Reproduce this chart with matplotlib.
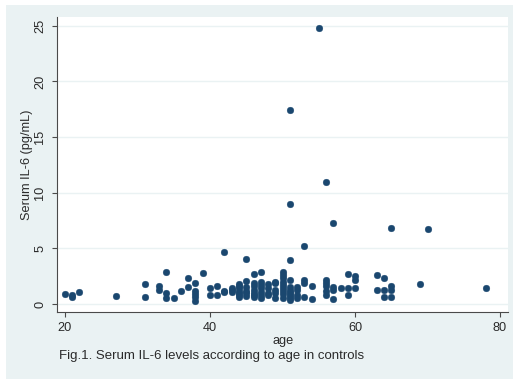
import matplotlib
matplotlib.use("Agg")
import matplotlib.pyplot as plt
from matplotlib.patches import Rectangle

# age (years) and serum IL-6 (pg/mL) for the control group
age = [20, 21, 21, 22, 27, 31, 31, 33, 33, 34, 34, 34, 35, 36, 37, 37,
       38, 38, 38, 38, 38, 39, 40, 40, 41, 41, 42, 42, 42, 43, 43, 43,
       44, 44, 44, 44, 44, 44, 44,
       45, 45, 45, 45, 45, 45,
       46, 46, 46, 46, 46, 46, 46,
       47, 47, 47, 47, 47, 47, 47,
       48, 48, 48, 48,
       49, 49, 49, 49, 49,
       50, 50, 50, 50, 50, 50, 50, 50, 50,
       51, 51, 51, 51, 51, 51, 51, 51, 51, 51, 51,
       52, 52, 52, 52, 53, 53, 53, 53, 54, 54, 55,
       56, 56, 56, 56, 56, 56, 57, 57, 57, 57, 58, 59, 59, 59,
       60, 60, 60, 63, 63, 64, 64, 64, 65, 65, 65, 65, 69, 70, 78]
il6 = [0.87, 0.85, 0.60, 1.05, 0.69, 1.77, 0.66, 1.59, 1.26, 2.85, 1.02, 0.54, 0.51, 1.14, 2.31, 1.56,
       1.89, 1.20, 0.90, 0.60, 0.30, 2.76, 1.47, 0.84, 1.59, 0.81, 4.64, 1.20, 1.05, 1.45, 1.30, 1.10,
       1.80, 1.60, 1.40, 1.20, 1.00, 0.80, 0.66,
       4.04, 2.10, 1.50, 1.20, 1.00, 0.75,
       2.67, 1.90, 1.60, 1.30, 1.00, 0.80, 0.60,
       2.88, 2.00, 1.70, 1.40, 1.10, 0.80, 0.50,
       1.80, 1.40, 1.00, 0.80,
       2.00, 1.90, 1.26, 0.96, 0.50,
       2.90, 2.60, 2.30, 2.00, 1.70, 1.40, 1.20, 0.90, 0.50,
       17.4, 9.00, 3.98, 2.16, 1.50, 1.30, 1.10, 0.90, 0.70, 0.50, 0.36,
       1.56, 1.26, 0.80, 0.50, 5.24, 2.16, 1.86, 0.66, 1.65, 0.45, 24.8,
       11.0, 2.16, 1.90, 1.60, 1.20, 0.81, 7.28, 1.56, 1.26, 0.45, 1.41, 2.67, 1.41, 0.81,
       2.50, 2.16, 1.41, 2.60, 1.26, 2.36, 1.26, 0.60, 6.83, 1.60, 1.26, 0.60, 1.80, 6.77, 1.41]

x_ticks = [20, 40, 60, 80]
y_ticks = [0, 5, 10, 15, 20, 25]

BG = "#eaf2f3"
NAVY = "#1a476f"
AXIS = "#4a4a4a"
INK = "#2a2a2a"
FS = 9.2

plt.rcParams["font.family"] = ["Liberation Sans", "DejaVu Sans"]

fig = plt.figure(figsize=(5.13, 3.79), dpi=100, facecolor="white")
fig.patches.append(Rectangle((6 / 513, 0), 1, 374 / 379, transform=fig.transFigure,
                             facecolor=BG, edgecolor="none", zorder=-10))

ax = fig.add_axes([57.3 / 513, 67.3 / 379, 450.7 / 513, 294.7 / 379])
ax.set_facecolor("white")
ax.plot(age, il6, "o", color=NAVY, ms=4.8, mec=NAVY, mew=0.3, zorder=3)

ax.set_xlim(18.94, 81.1)
ax.set_ylim(-0.69, 25.79)
ax.set_xticks(x_ticks)
ax.set_yticks(y_ticks)
ax.grid(axis="y", color=BG, lw=1.0, zorder=0)
ax.set_axisbelow(True)

for side in ("top", "right"):
    ax.spines[side].set_visible(False)
for side in ("left", "bottom"):
    ax.spines[side].set_color(AXIS)
    ax.spines[side].set_linewidth(0.8)

ax.tick_params(axis="both", direction="out", length=3.6, width=0.8, color=AXIS,
               labelsize=FS, labelcolor=INK)
ax.tick_params(axis="y", pad=4.5)
ax.tick_params(axis="x", pad=3.5)
for lab in ax.get_yticklabels():
    lab.set_rotation(90)
    lab.set_va("center")

ax.set_xlabel("age", fontsize=FS, color=INK, labelpad=1)
ax.set_ylabel("Serum IL-6 (pg/mL)", fontsize=FS, color=INK, labelpad=1)

fig.text(59 / 513, 1 - 356 / 379, "Fig.1. Serum IL-6 levels according to age in controls",
         fontsize=9.5, color=INK, ha="left", va="center")

fig.savefig("out.png", dpi=100, facecolor=fig.get_facecolor())
